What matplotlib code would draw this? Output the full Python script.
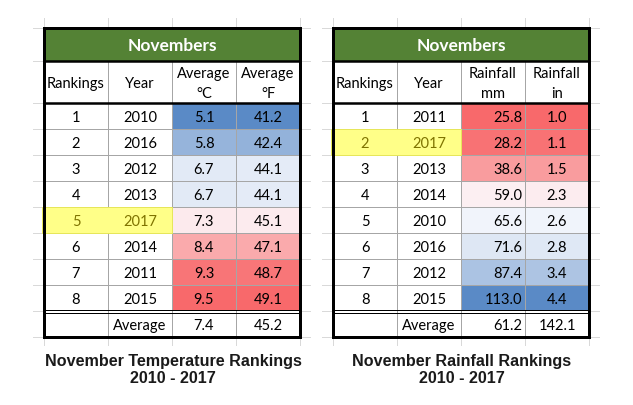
import numpy as np
import matplotlib.pyplot as plt
from matplotlib.colors import LinearSegmentedColormap, TwoSlopeNorm
from matplotlib.patches import Rectangle

# ---- data ----
rankings = [1, 2, 3, 4, 5, 6, 7, 8]

temp_years = [2010, 2016, 2012, 2013, 2017, 2014, 2011, 2015]
temp_c = [5.1, 5.8, 6.7, 6.7, 7.3, 8.4, 9.3, 9.5]
temp_f = [41.2, 42.4, 44.1, 44.1, 45.1, 47.1, 48.7, 49.1]
temp_avg = ["7.4", "45.2"]
temp_headers = ["Rankings", "Year", "Average\n°C", "Average\n°F"]

rain_years = [2011, 2017, 2013, 2014, 2010, 2016, 2012, 2015]
rain_mm = [25.8, 28.2, 38.6, 59.0, 65.6, 71.6, 87.4, 113.0]
rain_in = [1.0, 1.1, 1.5, 2.3, 2.6, 2.8, 3.4, 4.4]
rain_avg = ["61.2", "142.1"]
rain_headers = ["Rankings", "Year", "Rainfall\nmm", "Rainfall\nin"]

# ---- style ----
GREEN = "#548235"
GRID = "#d9d9d9"
INNER = "#a6a6a6"
YELLOW = "#ffff88"
YELLOW_EDGE = "#e6e65a"
YELLOW_TEXT = "#7f7300"
FONT = "Lato"
FS = 10.5
scale = LinearSegmentedColormap.from_list("excel", ["#5a8ac6", "#fcfcff", "#f8696b"])

# row edges: title bar, header row, 8 data rows, average row
ROW_Y = [28, 61, 103] + [103 + 26 * (i + 1) for i in range(8)] + [337]

fig = plt.figure(figsize=(6.33, 4.05), dpi=100)
ax = fig.add_axes([0, 0, 1, 1])
ax.set_xlim(0, 633)
ax.set_ylim(405, 0)
ax.axis("off")


def px(w):
    return w * 72 / 100


def cell_text(x, y, s, ha="center", color="black"):
    ax.text(x, y, s, color=color, fontsize=FS, family=FONT, ha=ha, va="center", zorder=5)


def draw_table(col_x, headers, years, v1, v2, avg, reverse, highlight, title, right_align):
    x0, x1 = col_x[0], col_x[-1]
    y_top, y_bot = ROW_Y[0], ROW_Y[-1]
    mid = [(col_x[j] + col_x[j + 1]) / 2 for j in range(4)]
    x_v1 = col_x[3] - 3 if right_align else mid[2]
    ha_v1 = "right" if right_align else "center"

    # sheet gridlines peeking out around the table
    for x in col_x:
        ax.plot([x, x], [18, 345], color=GRID, lw=px(1), zorder=0)
    for y in ROW_Y:
        ax.plot([x0 - 11, x1 + 10], [y, y], color=GRID, lw=px(1), zorder=0)
    ax.add_patch(Rectangle((x0, y_top), x1 - x0, y_bot - y_top, fc="white", ec="none", zorder=1))

    # title bar
    ax.add_patch(Rectangle((x0, ROW_Y[0]), x1 - x0, ROW_Y[1] - ROW_Y[0], fc=GREEN, ec="none", zorder=2))
    ax.text((x0 + x1) / 2, (ROW_Y[0] + ROW_Y[1]) / 2 + 1.5, "Novembers", color="white",
            fontsize=12.5, fontweight="bold", family=FONT, ha="center", va="center", zorder=5)

    # header row
    for j, h in enumerate(headers):
        ax.text(mid[j], (ROW_Y[1] + ROW_Y[2]) / 2 + 2, h, fontsize=FS, family=FONT,
                ha="center", va="center", linespacing=1.55, zorder=5)

    # colour scales, centred on the median like Excel's 3-colour scale
    cmap = scale.reversed() if reverse else scale
    n1 = TwoSlopeNorm(vmin=min(v1), vcenter=np.median(v1), vmax=max(v1))
    n2 = TwoSlopeNorm(vmin=min(v2), vcenter=np.median(v2), vmax=max(v2))

    for i in range(len(years)):
        ya, yb = ROW_Y[2 + i], ROW_Y[3 + i]
        yc = (ya + yb) / 2 + 2
        ax.add_patch(Rectangle((col_x[2], ya), col_x[3] - col_x[2], yb - ya, fc=cmap(n1(v1[i])), ec="none", zorder=2))
        ax.add_patch(Rectangle((col_x[3], ya), col_x[4] - col_x[3], yb - ya, fc=cmap(n2(v2[i])), ec="none", zorder=2))
        tc = "black"
        if i == highlight:
            ax.add_patch(Rectangle((col_x[0] - 2, ya), col_x[2] - col_x[0] + 2, yb - ya,
                                   fc=YELLOW, ec=YELLOW_EDGE, lw=px(1), zorder=4))
            tc = YELLOW_TEXT
        cell_text(mid[0], yc, str(rankings[i]), color=tc)
        cell_text(mid[1], yc, str(years[i]), color=tc)
        cell_text(x_v1, yc, "%.1f" % v1[i], ha=ha_v1)
        cell_text(mid[3], yc, "%.1f" % v2[i])

    # average row
    yc = (ROW_Y[-2] + ROW_Y[-1]) / 2 + 2
    cell_text(mid[1], yc, "Average")
    cell_text(x_v1, yc, avg[0], ha=ha_v1)
    cell_text(mid[3], yc, avg[1])

    # inner grey cell lines
    for x in col_x[1:-1]:
        ax.plot([x, x], [ROW_Y[1], y_bot], color=INNER, lw=px(1), zorder=3)
    for y in ROW_Y[3:-2]:
        ax.plot([x0, x1], [y, y], color=INNER, lw=px(1), zorder=3)

    # black rules
    ax.plot([x0, x1], [ROW_Y[1], ROW_Y[1]], color="black", lw=px(2.5), zorder=6)
    ax.plot([x0, x1], [ROW_Y[2], ROW_Y[2]], color="black", lw=px(2.5), zorder=6)
    ax.plot([x0, x1], [ROW_Y[-2] - 1.5, ROW_Y[-2] - 1.5], color="black", lw=px(1), zorder=6)
    ax.plot([x0, x1], [ROW_Y[-2] + 1.5, ROW_Y[-2] + 1.5], color="black", lw=px(1), zorder=6)
    ax.add_patch(Rectangle((x0, y_top), x1 - x0, y_bot - y_top, fc="none", ec="black", lw=px(3), zorder=7))

    # caption
    ax.text((x0 + x1) / 2 + 1, 370, title, fontsize=11.6, fontweight="bold", color="#1a1a1a",
            family="Liberation Sans", ha="center", va="center", linespacing=1.15)


draw_table([44, 108, 172, 236, 300], temp_headers, temp_years, temp_c, temp_f, temp_avg,
           False, 4, "November Temperature Rankings\n2010 - 2017", False)
draw_table([333, 397, 461, 525, 589], rain_headers, rain_years, rain_mm, rain_in, rain_avg,
           True, 1, "November Rainfall Rankings\n2010 - 2017", True)

fig.savefig("out.png", dpi=100, facecolor="white")
